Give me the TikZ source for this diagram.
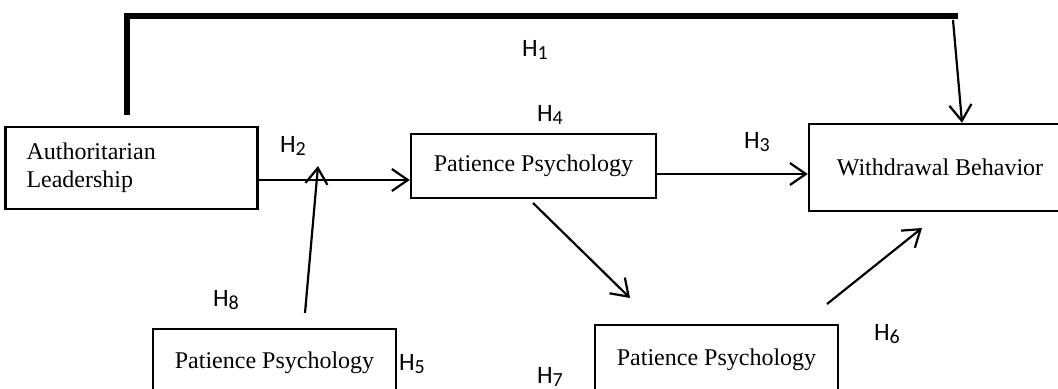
\documentclass[tikz,border=0pt]{standalone}
\usepackage{fontspec}
\setmainfont{Liberation Serif}
\newfontfamily\hfont{Carlito}
\usetikzlibrary{arrows.meta}
% hypothesis label: H with a lowered, smaller digit
\newcommand\hyp[1]{H\raisebox{-1.6pt}{\fontsize{10}{10}\selectfont #1}}
\begin{document}
\begin{tikzpicture}[x=0.5pt,y=-0.5pt,
  box/.style={draw,line width=1.2pt,inner sep=0pt,font=\fontsize{12}{14}\selectfont},
  link/.style={line width=1.1pt,-{Straight Barb[length=8pt,width=11pt,line width=1.1pt]}},
  bar/.style={line width=2.6pt},
  hlab/.style={inner sep=0pt,font=\hfont\fontsize{12.5}{12.5}\selectfont}]
\useasboundingbox (0,0) rectangle (1058,389);
\clip (0,0) rectangle (1058,389);

% construct boxes
\node[box,minimum width=120.5pt,minimum height=41pt,text width=105pt,
      align=left,inner xsep=10.5pt] (al) at (131.5,168) {Authoritarian\\Leadership};
\node[box,minimum width=122.5pt,minimum height=32pt] (pp) at (533.5,166) {Patience Psychology};
\node[box,minimum width=131pt,minimum height=43.5pt] (wb) at (940,167.5) {Withdrawal Behavior};
\node[box,minimum width=121.5pt,minimum height=34pt] (ppl) at (274.5,363) {Patience Psychology};
\node[box,minimum width=121.5pt,minimum height=35pt] (ppr) at (716.5,360) {Patience Psychology};

% free ends of the connectors
\coordinate (barA) at (127,115);
\coordinate (barB) at (127,16);
\coordinate (barC) at (958,16);
\coordinate (h1s) at (953,20);
\coordinate (modS) at (305,313);
\coordinate (modT) at (318,166);
\coordinate (dgS) at (533,203);
\coordinate (dgT) at (630,298);
\coordinate (upS) at (827,304);
\coordinate (upT) at (922,228);

% direct path (H1)
\draw[bar] (barA) -- (barB) -- (barC);
\draw[link] (h1s) -- (wb.north -| 962,0);

% main paths
\draw[link] (al.east |- 0,180) -- (pp.west |- 0,180);
\draw[link] (pp.east |- 0,174) -- (wb.west |- 0,174);
\draw[link] (modS) -- (modT);
\draw[link] (dgS) -- (dgT);
\draw[link] (upS) -- (upT);

% hypothesis labels
\node[hlab] (h1) at (535,50) {\hyp{1}};
\node[hlab] (h2) at (293,146) {\hyp{2}};
\node[hlab] (h3) at (757,142) {\hyp{3}};
\node[hlab] (h4) at (550,115) {\hyp{4}};
\node[hlab] (h5) at (412,364) {\hyp{5}};
\node[hlab] (h6) at (887,334) {\hyp{6}};
\node[hlab] (h7) at (550,377) {\hyp{7}};
\node[hlab] (h8) at (226,300) {\hyp{8}};
\end{tikzpicture}
\end{document}
